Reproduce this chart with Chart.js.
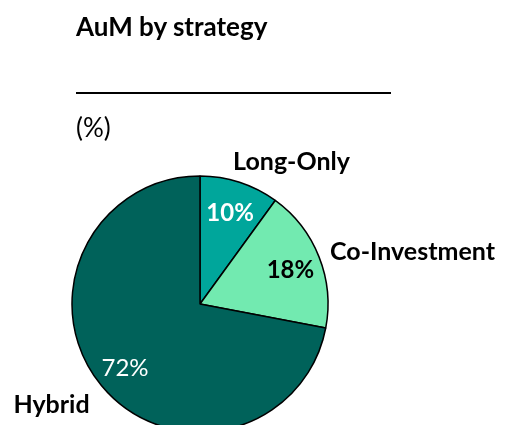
<!DOCTYPE html>
<html>
<head>
<meta charset="utf-8">
<script src="https://cdn.jsdelivr.net/npm/chart.js@4"></script>
<style>
  html, body { margin: 0; padding: 0; overflow: hidden; background: #fff; }
  #wrap { position: relative; width: 507px; height: 425px; font-family: Lato, "Open Sans", sans-serif; color: #000; }
  #pie { position: absolute; left: 0; top: 0; }
  .title { position: absolute; left: 76px; top: 10px; font-size: 26px; font-weight: bold; }
  .rule { position: absolute; left: 76px; top: 92px; width: 315px; border-top: 2px solid #000; }
  .unit { position: absolute; left: 76px; top: 111px; font-size: 26px; }
</style>
</head>
<body>
<div id="wrap">
  <canvas id="pie" width="507" height="425"></canvas>
  <div class="title">AuM by strategy</div>
  <div class="rule"></div>
  <div class="unit">(%)</div>
</div>
<script>
const strategies = ["Long-Only", "Co-Investment", "Hybrid"];
const shares = [10, 18, 72];

const sliceColors = ["#00A69B", "#72EAB0", "#00625A"];
const valueColors = ["#fff", "#000", "#fff"];
const valueWeights = ["bold", "bold", "normal"];
// where the category names sit, in units of the pie radius from its centre
const nameOffsets = [[0.715, -1.11], [1.66, -0.41], [-1.16, 0.79]];

const sliceLabels = {
  id: "sliceLabels",
  afterDatasetsDraw(chart) {
    const ctx = chart.ctx;
    const arcs = chart.getDatasetMeta(0).data;
    ctx.save();
    ctx.textAlign = "center";
    ctx.textBaseline = "middle";
    arcs.forEach((arc, i) => {
      const p = arc.getProps(["x", "y", "outerRadius", "startAngle", "endAngle"], true);
      const mid = (p.startAngle + p.endAngle) / 2;
      const d = p.outerRadius * 0.76;
      ctx.fillStyle = valueColors[i];
      ctx.font = valueWeights[i] + " 24px Lato, 'Open Sans', sans-serif";
      ctx.fillText(shares[i] + "%", p.x + Math.cos(mid) * d, p.y + Math.sin(mid) * d + 2);
      ctx.fillStyle = "#000";
      ctx.font = "bold 25px Lato, 'Open Sans', sans-serif";
      ctx.fillText(strategies[i], p.x + nameOffsets[i][0] * p.outerRadius, p.y + nameOffsets[i][1] * p.outerRadius);
    });
    ctx.restore();
  }
};

new Chart(document.querySelector("#pie"), {
  type: "pie",
  data: {
    labels: strategies,
    datasets: [{
      data: shares,
      backgroundColor: sliceColors,
      borderColor: "#000",
      borderWidth: 1.5,
      radius: 128,
    }],
  },
  options: {
    responsive: false,
    animation: false,
    layout: { padding: { top: 183, left: 0, right: 107, bottom: 0 } },
    plugins: {
      legend: { display: false },
      tooltip: { enabled: false },
    },
  },
  plugins: [sliceLabels],
});
</script>
</body>
</html>
